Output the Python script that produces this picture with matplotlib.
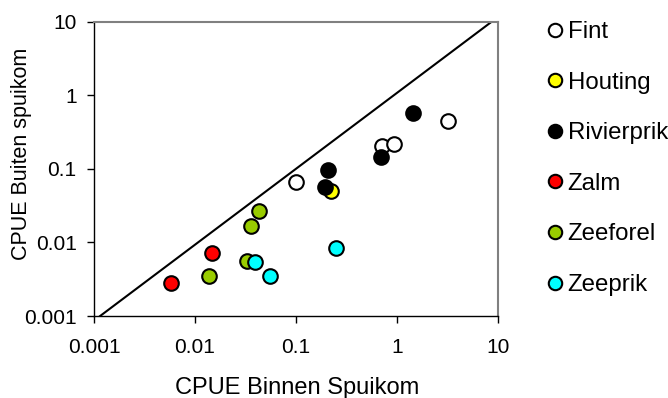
import matplotlib.pyplot as plt

plt.rcParams['font.family'] = ['Liberation Sans', 'DejaVu Sans']

# data (CPUE binnen, CPUE buiten)
fint_x = [0.099, 0.71, 0.93, 3.19]
fint_y = [0.0665, 0.203, 0.219, 0.446]
houting_x = [0.224]
houting_y = [0.0506]
rivierprik_x = [1.44, 0.69, 0.209, 0.194]
rivierprik_y = [0.567, 0.144, 0.097, 0.056]
zalm_x = [0.0147, 0.00578]
zalm_y = [0.0072, 0.00279]
zeeforel_x = [0.0426, 0.0357, 0.0328, 0.0138]
zeeforel_y = [0.0264, 0.0168, 0.00566, 0.0035]
zeeprik_x = [0.248, 0.0397, 0.0547]
zeeprik_y = [0.00844, 0.00538, 0.0035]

# reference line
line_x = [0.00115, 8.66]
line_y = [0.001, 10]

tick_vals = [0.001, 0.01, 0.1, 1, 10]
tick_labels = ['0.001', '0.01', '0.1', '1', '10']

fig = plt.figure(figsize=(6.68, 3.98), dpi=100)
ax = fig.add_axes([94 / 668, 1 - 316 / 398, 404 / 668, 294.3 / 398])

ax.plot(line_x, line_y, color='black', lw=1.5, zorder=2)

series = [
    ('Fint', fint_x, fint_y, 'white'),
    ('Houting', houting_x, houting_y, '#ffff00'),
    ('Rivierprik', rivierprik_x, rivierprik_y, 'black'),
    ('Zalm', zalm_x, zalm_y, '#ff0000'),
    ('Zeeforel', zeeforel_x, zeeforel_y, '#99cc00'),
    ('Zeeprik', zeeprik_x, zeeprik_y, '#00ffff'),
]
for name, xs, ys, col in series:
    ax.plot(xs, ys, ls='none', marker='o', ms=10.5, mfc=col, mec='black',
            mew=1.5, label=name, zorder=3, clip_on=False)

ax.set_xscale('log')
ax.set_yscale('log')
ax.set_xlim(0.001, 10)
ax.set_ylim(0.001, 10)
ax.set_xticks(tick_vals)
ax.set_xticklabels(tick_labels)
ax.set_yticks(tick_vals)
ax.set_yticklabels(tick_labels)
ax.minorticks_off()
ax.tick_params(direction='out', length=5, width=1, labelsize=15)
ax.tick_params(axis='x', pad=10.5)
ax.tick_params(axis='y', pad=7.5)

for s in ['left', 'bottom']:
    ax.spines[s].set_color('black')
    ax.spines[s].set_linewidth(1)
for s in ['top', 'right']:
    ax.spines[s].set_color('#808080')
    ax.spines[s].set_linewidth(1.5)

fig.text(297 / 668, 1 - 394 / 398, 'CPUE Binnen Spuikom', fontsize=17,
         ha='center', va='baseline')
fig.text(22 / 668, 1 - 154 / 398, 'CPUE Buiten spuikom', fontsize=15.5,
         ha='center', va='center', rotation=90)

leg = ax.legend(loc='upper left', bbox_to_anchor=(548 / 668, 1 - 21 / 398),
                bbox_transform=fig.transFigure, frameon=False, fontsize=17.3,
                markerscale=0.92, handlelength=0.6, handletextpad=0.22,
                labelspacing=1.19, borderpad=0, borderaxespad=0)

fig.savefig('out.png', dpi=100)
